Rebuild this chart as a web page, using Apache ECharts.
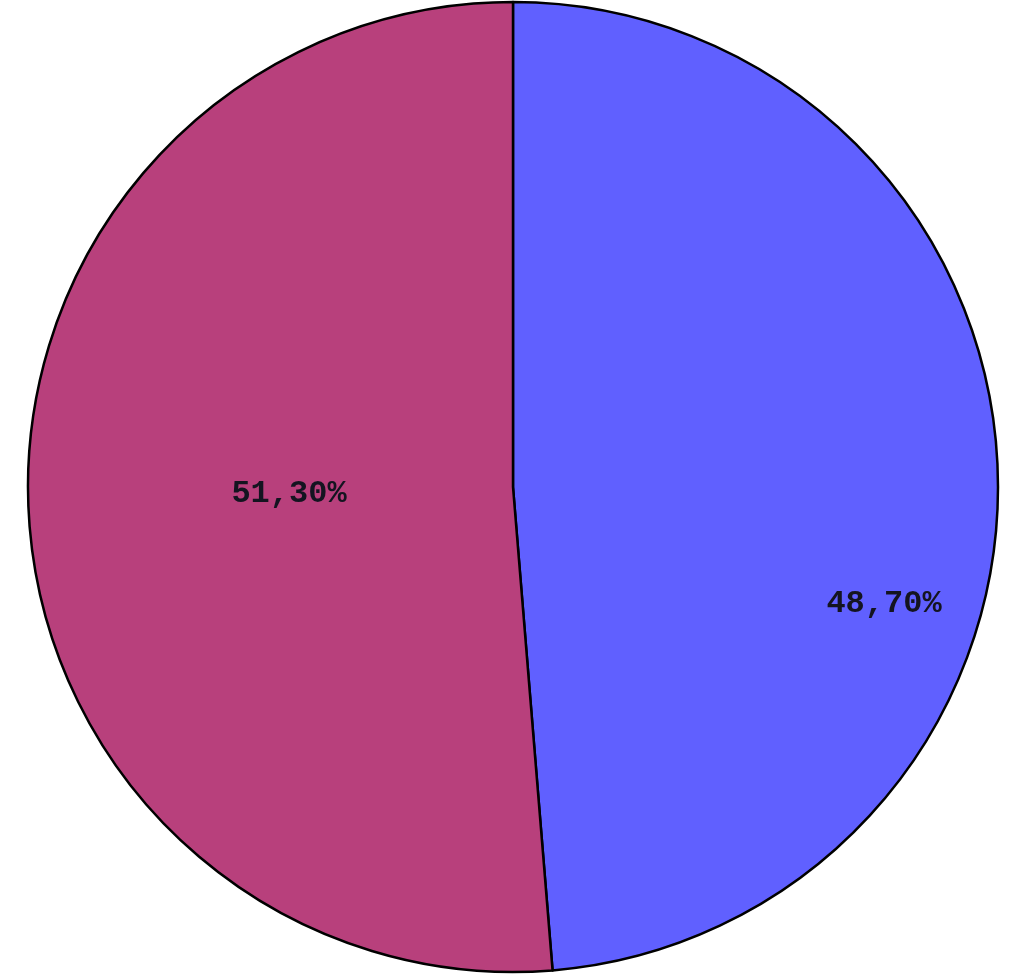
<!DOCTYPE html>
<html>
<head>
<meta charset="utf-8">
<script src="https://cdn.jsdelivr.net/npm/echarts@6/dist/echarts.min.js"></script>
<style>html,body{margin:0;padding:0;background:#fff;}#c{width:1024px;height:976px;}</style>
</head>
<body>
<div id="c"></div>
<script>
const categories = ['A', 'B'];
const values = [48.70, 51.30];
const labels = ['48,70%', '51,30%'];
const colors = ['#6060FF', '#B8407C'];
const labelPos = [[884, 604], [289, 494]];

const chart = echarts.init(document.getElementById('c'), null, {renderer: 'canvas'});
chart.setOption({
  backgroundColor: '#ffffff',
  animation: false,
  series: [{
    type: 'pie',
    center: [513, 487],
    radius: [0, 485],
    startAngle: 90,
    clockwise: true,
    data: categories.map((c, i) => ({name: c, value: values[i], itemStyle: {color: colors[i]}})),
    itemStyle: {borderColor: '#000', borderWidth: 2.5},
    emphasis: {disabled: true},
    label: {
      show: true,
      position: 'inside',
      formatter: p => labels[p.dataIndex],
      fontFamily: '"Liberation Mono", "DejaVu Sans Mono", monospace',
      fontWeight: 'bold',
      fontSize: 32,
      color: '#141420'
    },
    labelLine: {show: false},
    labelLayout: p => ({x: labelPos[p.dataIndex][0], y: labelPos[p.dataIndex][1], align: 'center', verticalAlign: 'middle'})
  }]
});
</script>
</body>
</html>
